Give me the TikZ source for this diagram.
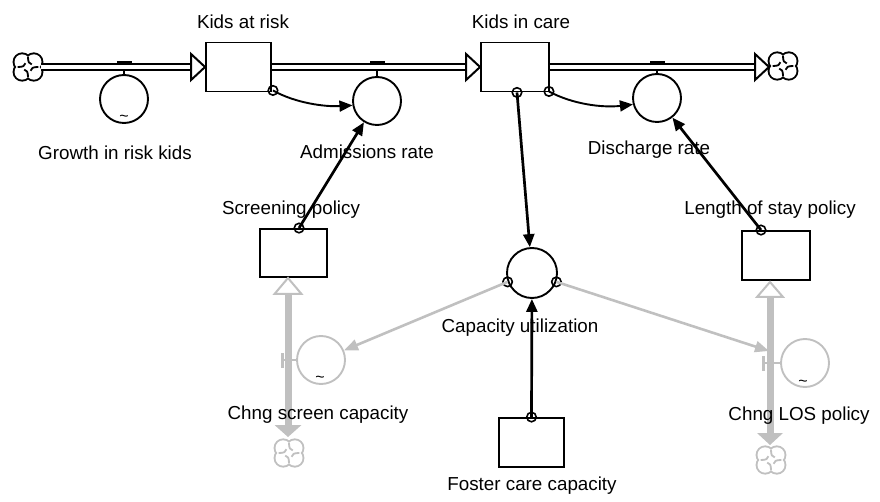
\documentclass[tikz,border=0pt]{standalone}
\usepackage{fontspec}
\setmainfont{Liberation Sans}
\usetikzlibrary{arrows.meta,calc}
\definecolor{lg}{RGB}{192,192,192}
\tikzset{
  pics/vcloud/.style={code={
    \foreach \a/\b in {-5.8/-5,5.8/-5,-5.8/5,5.8/5} {\draw[draw=#1,line width=3.8pt] (\a,\b) circle (7.7);}
    \foreach \a/\b in {-5.8/-5,5.8/-5,-5.8/5,5.8/5} {\fill[white] (\a,\b) circle (7.7);}
    \foreach \r in {0,90,180,270} {\draw[draw=#1,line width=1.8pt,rotate=\r] (0,-10.3) .. controls (0,-5) and (1,-3) .. (3.8,-2.6);}
  }}
}
\begin{document}
\begin{tikzpicture}[x=1pt,y=-1pt,
  stock/.style={draw=black,line width=1.9pt,minimum width=66pt,minimum height=49pt,inner sep=0pt},
  aux/.style={circle,draw=black,line width=1.9pt,minimum size=48pt,inner sep=0pt},
  gaux/.style={circle,draw=lg,line width=1.9pt,minimum size=48pt,inner sep=0pt},
  lbl/.style={font=\fontsize{18.8}{22}\selectfont,inner sep=0pt,anchor=base},
  pipe/.style={draw=black,line width=2.2pt,double=white,double distance=3.8pt},
  phead/.style={draw=black,line width=2pt,fill=white,line join=miter},
  gphead/.style={draw=lg,line width=2pt,fill=white,line join=miter},
  gpipe/.style={draw=lg,line width=7pt},
  conn/.style={draw=black,line width=2.7pt,-{Triangle[length=13pt,width=11pt]}},
  cconn/.style={draw=black,line width=1.9pt,-{Triangle[length=13pt,width=11pt]}},
  gconn/.style={draw=lg,line width=2.6pt,-{Triangle[length=14pt,width=11pt]}},
  dotc/.style={circle,draw=black,line width=1.6pt,minimum size=9.5pt,inner sep=0pt},
  tl/.style={font=\fontsize{16}{16}\selectfont,inner sep=0pt},
]
\useasboundingbox (0,0) rectangle (880,502);

% stocks
\node[stock,minimum width=65pt] (kar) at (238.5,67) {};
\node[stock,minimum width=68pt] (kic) at (515,67) {};
\node[stock,minimum width=67pt,minimum height=48pt] (sp) at (293.5,253) {};
\node[stock,minimum width=68pt] (los) at (776,255.5) {};
\node[stock,minimum width=65pt] (fc) at (531.5,442.5) {};

% clouds
\coordinate (cL) at (28,67);
\coordinate (cR) at (783,66);
\coordinate (cS) at (289,453);
\coordinate (cO) at (771,460);
\pic at (cL) {vcloud=black};
\pic at (cR) {vcloud=black};
\pic at (cS) {vcloud=lg};
\pic at (cO) {vcloud=lg};

% valves (top)
\node[aux] (gr) at (124,99) {};
\node[aux] (adm) at (377,101) {};
\node[aux] (dis) at (657,98) {};
\draw[line width=1.5pt] (124,71) -- (gr.north);
\draw[line width=1.5pt] (377,71) -- (adm.north);
\draw[line width=1.5pt] (657,71) -- (dis.north);

% top pipes
\draw[pipe] ($(cL)+(13,0)$) -- ($(kar.west)+(-13,0)$);
\draw[phead] (kar.west) -- ++(-14,-13) -- ++(0,26) -- cycle;
\draw[pipe] (kar.east) -- ($(kic.west)+(-13,0)$);
\draw[phead] (kic.west) -- ++(-14,-13) -- ++(0,26) -- cycle;
\coordinate (cRw) at ($(cR)+(-14,1)$);
\draw[pipe] (kic.east) -- ($(cRw)+(-13,0)$);
\draw[phead] (cRw) -- ++(-14,-13) -- ++(0,26) -- cycle;
\fill (116.5,61) rectangle (131.5,64);
\fill (369.5,61) rectangle (384.5,64);
\fill (649.5,61) rectangle (664.5,64);

% tildes
\node[tl] (t1) at (124,118) {\char`\~};

% gray flows
\coordinate (spT) at (288,278);
\coordinate (spB) at (288,437);
\coordinate (loT) at (770,282);
\coordinate (loB) at (770,445);
\draw[gpipe] ($(spT)+(0,14)$) -- ($(spB)+(0,-11)$);
\draw[gphead] (spT) -- ++(-13.5,16) -- ++(27,0) -- cycle;
\fill[lg] (spB) -- ++(-13.5,-12) -- ++(27,0) -- cycle;
\draw[gpipe] ($(loT)+(0,14)$) -- ($(loB)+(0,-11)$);
\draw[gphead] (loT) -- ++(-13,15) -- ++(26,0) -- cycle;
\fill[lg] (loB) -- ++(-13,-12) -- ++(26,0) -- cycle;

% gray valves
\node[gaux] (cs) at (321,360) {};
\node[gaux] (cl) at (805,363) {};
\draw[lg,line width=1.8pt] (282.5,360) -- (cs.west);
\fill[lg] (281,353) rectangle (284,368);
\draw[lg,line width=1.8pt] (763.5,363) -- (cl.west);
\fill[lg] (762,356) rectangle (765,371);
\node[tl] (t2) at (320,379) {\char`\~};
\node[tl] (t3) at (803,383) {\char`\~};

% capacity utilization
\node[aux,minimum size=50pt] (cu) at (532,273) {};

% connector origins
\node[dotc] (d1) at ($(kar.south east)+(1,-2)$) {};
\node[dotc] (d2) at ($(kic.south)+(2,0)$) {};
\node[dotc] (d3) at ($(kic.south east)+(-1,-1)$) {};
\node[dotc] (d4) at ($(sp.north)+(5.5,0)$) {};
\node[dotc] (d5) at ($(los.north)+(-15,0)$) {};
\node[dotc] (d6) at (fc.north) {};
\node[dotc] (d7) at (cu.200) {};
\node[dotc] (d8) at (cu.-20) {};
\coordinate (loV) at (769,351);

% connectors
\draw[cconn] (d1.center) .. controls (295,103) and (325,107) .. (adm.190);
\draw[cconn] (d3.center) .. controls (572,104) and (602,108) .. (dis.195);
\draw[conn] (d4.center) -- (adm);
\draw[conn] (d5.center) -- (dis);
\draw[conn] (d2.center) -- (cu);
\draw[conn] (d6.center) -- (cu);
\draw[gconn] (d7.center) -- (cs);
\draw[gconn] (d8.center) -- (loV);

% labels
\node[lbl] (n1) at (243,29) {Kids at risk};
\node[lbl] (n2) at (521,29) {Kids in care};
\node[lbl] (n3) at (115,160) {Growth in risk kids};
\node[lbl] (n4) at (367,159) {Admissions rate};
\node[lbl] (n5) at (649,155) {Discharge rate};
\node[lbl] (n6) at (291,215) {Screening policy};
\node[lbl] (n7) at (770,215) {Length of stay policy};
\node[lbl] (n8) at (520,332) {Capacity utilization};
\node[lbl] (n9) at (318,419) {Chng screen capacity};
\node[lbl] (n10) at (799,420) {Chng LOS policy};
\node[lbl] (n11) at (532,490) {Foster care capacity};
\end{tikzpicture}
\end{document}
